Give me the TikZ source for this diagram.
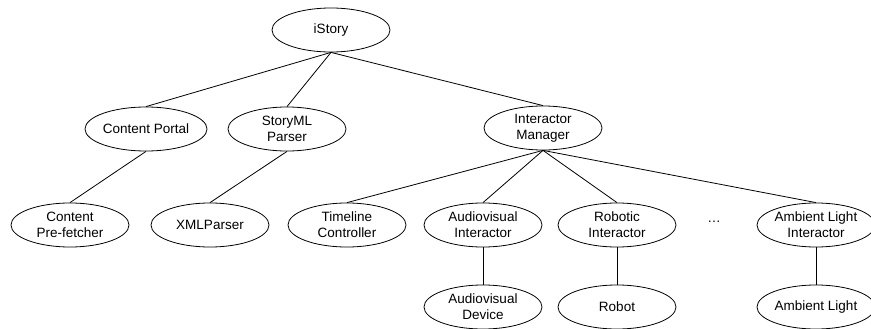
\documentclass[tikz,border=0pt]{standalone}
\usepackage{fontspec}
\setmainfont{Liberation Sans}
\usetikzlibrary{shapes.geometric}
\begin{document}
\begin{tikzpicture}[x=1pt,y=-1pt,
  comp/.style={ellipse,draw,line width=0.8pt,minimum width=118pt,minimum height=44pt,
    inner sep=0pt,align=center,font=\fontsize{13.5}{16}\selectfont},
  link/.style={draw,line width=0.8pt}]
\useasboundingbox (0,0) rectangle (871,329);
% top level
\node[comp] (istory) at (331,30) {iStory};
% second level
\node[comp] (portal) at (146,129) {Content Portal};
\node[comp] (parser) at (287,129) {StoryML\\Parser};
\node[comp] (manager) at (543,128) {Interactor\\Manager};
% third level
\node[comp] (prefetch) at (70,225) {Content\\Pre-fetcher};
\node[comp] (xml) at (210,225) {XMLParser};
\node[comp] (timeline) at (347,225) {Timeline\\Controller};
\node[comp] (avint) at (483,225) {Audiovisual\\Interactor};
\node[comp] (robint) at (617,225) {Robotic\\Interactor};
\node[font=\fontsize{13.5}{16}\selectfont] (dots) at (714,222) {\dots};
\node[comp] (ambint) at (816,225) {Ambient Light\\Interactor};
% devices
\node[comp] (avdev) at (483,307) {Audiovisual\\Device};
\node[comp] (robot) at (617,307) {Robot};
\node[comp] (amblight) at (816,307) {Ambient Light};
% connectors
\foreach \c in {portal,parser,manager} \draw[link] (istory.south) -- (\c.north);
\draw[link] (portal.south) -- (prefetch.north);
\draw[link] (parser.south) -- (xml.north);
\foreach \c in {timeline,avint,robint,ambint} \draw[link] (manager.south) -- (\c.north);
\draw[link] (avint.south) -- (avdev.north);
\draw[link] (robint.south) -- (robot.north);
\draw[link] (ambint.south) -- (amblight.north);
\end{tikzpicture}
\end{document}
